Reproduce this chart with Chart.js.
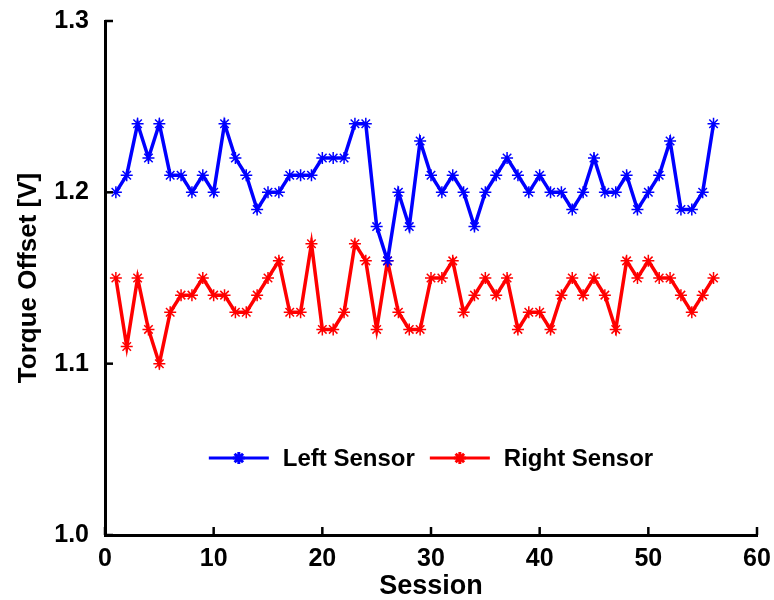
<!DOCTYPE html>
<html>
<head>
<meta charset="utf-8">
<script src="https://cdn.jsdelivr.net/npm/chart.js@4.4.1/dist/chart.umd.min.js"></script>
<style>
  html, body { margin: 0; padding: 0; background: #ffffff; }
  #wrap { width: 774px; height: 600px; position: relative; }
</style>
</head>
<body>
<div id="wrap"><canvas id="c" width="774" height="600"></canvas></div>
<script>
const sessions = [1,2,3,4,5,6,7,8,9,10,11,12,13,14,15,16,17,18,19,20,21,22,23,24,25,26,27,28,29,30,31,32,33,34,35,36,37,38,39,40,41,42,43,44,45,46,47,48,49,50,51,52,53,54,55,56];
const leftSensor = [1.20,1.21,1.24,1.22,1.24,1.21,1.21,1.20,1.21,1.20,1.24,1.22,1.21,1.19,1.20,1.20,1.21,1.21,1.21,1.22,1.22,1.22,1.24,1.24,1.18,1.16,1.20,1.18,1.23,1.21,1.20,1.21,1.20,1.18,1.20,1.21,1.22,1.21,1.20,1.21,1.20,1.20,1.19,1.20,1.22,1.20,1.20,1.21,1.19,1.20,1.21,1.23,1.19,1.19,1.20,1.24];
const rightSensor = [1.15,1.11,1.15,1.12,1.10,1.13,1.14,1.14,1.15,1.14,1.14,1.13,1.13,1.14,1.15,1.16,1.13,1.13,1.17,1.12,1.12,1.13,1.17,1.16,1.12,1.16,1.13,1.12,1.12,1.15,1.15,1.16,1.13,1.14,1.15,1.14,1.15,1.12,1.13,1.13,1.12,1.14,1.15,1.14,1.15,1.14,1.12,1.16,1.15,1.16,1.15,1.15,1.14,1.13,1.14,1.15];
const seriesNames = ["Left Sensor", "Right Sensor"];
const seriesColors = ["#0000ff", "#ff0000"];
const xTicks = [0,10,20,30,40,50,60];
const yTicks = [1.0,1.1,1.2,1.3];
const xTitle = "Session";
const yTitle = "Torque Offset [V]";

const FONT = "'Liberation Sans', Arial, sans-serif";

function toPoints(xs, ys) { return xs.map((x, i) => ({ x: x, y: ys[i] })); }

const inwardTicks = {
  id: 'inwardTicks',
  afterDraw(chart) {
    const ctx = chart.ctx, xs = chart.scales.x, ys = chart.scales.y;
    ctx.save();
    ctx.strokeStyle = '#000';
    ctx.lineWidth = 2.5;
    xTicks.forEach(v => {
      const px = xs.getPixelForValue(v);
      ctx.beginPath(); ctx.moveTo(px, ys.bottom); ctx.lineTo(px, ys.bottom - 8); ctx.stroke();
    });
    yTicks.forEach(v => {
      const py = ys.getPixelForValue(v);
      ctx.beginPath(); ctx.moveTo(xs.left, py); ctx.lineTo(xs.left + 8, py); ctx.stroke();
    });
    ctx.restore();
  }
};

const innerLegend = {
  id: 'innerLegend',
  afterDraw(chart) {
    const ctx = chart.ctx, area = chart.chartArea;
    ctx.save();
    ctx.font = "bold 24px " + FONT;
    const lineLen = 60, gapText = 14, gapItem = 15;
    const widths = seriesNames.map(n => ctx.measureText(n).width);
    let total = 0;
    widths.forEach((w, i) => { total += lineLen + gapText + w + (i < widths.length - 1 ? gapItem : 0); });
    let x = (area.left + area.right) / 2 - total / 2;
    const y = area.bottom - 77;
    seriesNames.forEach((name, i) => {
      ctx.strokeStyle = seriesColors[i];
      ctx.lineWidth = 3;
      ctx.beginPath(); ctx.moveTo(x, y); ctx.lineTo(x + lineLen, y); ctx.stroke();
      Chart.helpers.drawPoint(ctx, { pointStyle: 'star', radius: 6, rotation: 0, borderWidth: 1.5 }, x + lineLen / 2, y);
      ctx.fillStyle = '#000';
      ctx.textBaseline = 'middle';
      ctx.textAlign = 'left';
      ctx.fillText(name, x + lineLen + gapText, y + 1);
      x += lineLen + gapText + widths[i] + gapItem;
    });
    ctx.restore();
  }
};

new Chart(document.getElementById('c'), {
  type: 'line',
  data: {
    datasets: [
      { label: seriesNames[0], data: toPoints(sessions, leftSensor), borderColor: seriesColors[0], backgroundColor: seriesColors[0],
        borderWidth: 3.5, pointStyle: 'star', pointRadius: 6, pointBorderWidth: 1.5, pointBorderColor: seriesColors[0], tension: 0, fill: false },
      { label: seriesNames[1], data: toPoints(sessions, rightSensor), borderColor: seriesColors[1], backgroundColor: seriesColors[1],
        borderWidth: 3.5, pointStyle: 'star', pointRadius: 6, pointBorderWidth: 1.5, pointBorderColor: seriesColors[1], tension: 0, fill: false }
    ]
  },
  options: {
    responsive: false,
    animation: false,
    events: [],
    layout: { padding: 0 },
    plugins: { legend: { display: false }, tooltip: { enabled: false } },
    scales: {
      x: {
        type: 'linear', min: 0, max: 60,
        afterBuildTicks: s => { s.ticks = xTicks.map(v => ({ value: v })); },
        afterFit: s => { s.height = 65; s.paddingRight = 17; s.paddingLeft = 0; },
        ticks: { color: '#000', font: { family: FONT, size: 25, weight: 'bold' }, padding: 9, maxRotation: 0 },
        grid: { display: true, drawOnChartArea: false, drawTicks: false, color: 'rgba(0,0,0,0)' },
        border: { display: true, color: '#000', width: 3 },
        title: { display: true, text: xTitle, color: '#000', font: { family: FONT, size: 27, weight: 'bold' }, padding: { top: 0, bottom: -3 } }
      },
      y: {
        type: 'linear', min: 1.0, max: 1.3,
        afterBuildTicks: s => { s.ticks = yTicks.map(v => ({ value: v })); },
        afterFit: s => { s.width = 105; s.paddingTop = 21; s.paddingBottom = 0; },
        ticks: { color: '#000', font: { family: FONT, size: 25, weight: 'bold' }, padding: 16, callback: v => Number(v).toFixed(1) },
        grid: { display: true, drawOnChartArea: false, drawTicks: false, color: 'rgba(0,0,0,0)' },
        border: { display: true, color: '#000', width: 3 },
        title: { display: true, text: yTitle, color: '#000', font: { family: FONT, size: 26, weight: 'bold' }, padding: { top: 13, bottom: 0 } }
      }
    }
  },
  plugins: [inwardTicks, innerLegend]
});
</script>
</body>
</html>
